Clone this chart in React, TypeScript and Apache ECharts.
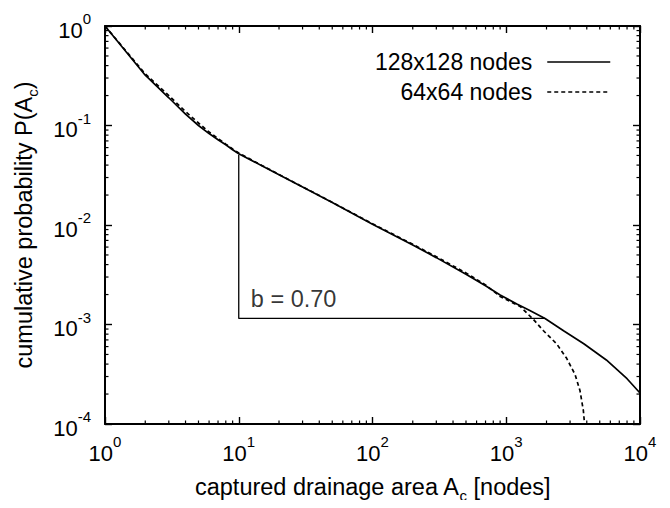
import React, { useEffect, useRef } from "react";
import * as echarts from "echarts";

// ---- data ----
const SERIES_NAMES = ["128x128 nodes", "64x64 nodes"];

const AREA_128 = [1, 2, 3, 4, 5, 6, 7, 8, 9, 10, 15, 20, 30, 50, 100, 200, 300, 500, 700, 900, 1200, 1500, 1950, 2700, 3800, 5600, 8000, 10000];
const PROB_128 = [1.0, 0.32, 0.19, 0.13, 0.1, 0.083, 0.072, 0.064, 0.057, 0.052, 0.0392, 0.032, 0.0241, 0.0168, 0.0102, 0.0063, 0.0047, 0.0032, 0.00245, 0.00198, 0.00161, 0.00138, 0.00115, 0.00086, 0.00064, 0.00044, 0.000285, 0.000205];

const AREA_64 = [1, 2, 3, 4, 5, 6, 7, 8, 9, 10, 15, 20, 30, 50, 100, 200, 300, 500, 700, 900, 1270, 1590, 1890, 2380, 2830, 3270, 3560, 3770, 3850];
const PROB_64 = [1.0, 0.33, 0.2, 0.138, 0.106, 0.086, 0.074, 0.065, 0.058, 0.053, 0.0395, 0.0322, 0.0242, 0.0169, 0.0103, 0.0064, 0.0048, 0.0033, 0.0025, 0.00191, 0.00152, 0.00113, 0.00087, 0.00064, 0.000457, 0.000314, 0.000216, 0.000137, 0.0001];

const TRIANGLE_AREA = [10, 10, 1950];
const TRIANGLE_PROB = [0.0508, 0.00115, 0.00115];
const SLOPE_LABEL = "b = 0.70";
const SLOPE_LABEL_AT = [11.3, 0.0018];

const X_RANGE = [1, 10000];
const Y_RANGE = [1e-4, 1];
const X_MINOR = [2, 3, 4, 5, 6, 7, 8, 9, 20, 30, 40, 50, 60, 70, 80, 90, 200, 300, 400, 500, 600, 700, 800, 900, 2000, 3000, 4000, 5000, 6000, 7000, 8000, 9000];
const Y_MINOR = [
  0.0002, 0.0003, 0.0004, 0.0005, 0.0006, 0.0007, 0.0008, 0.0009,
  0.002, 0.003, 0.004, 0.005, 0.006, 0.007, 0.008, 0.009,
  0.02, 0.03, 0.04, 0.05, 0.06, 0.07, 0.08, 0.09,
  0.2, 0.3, 0.4, 0.5, 0.6, 0.7, 0.8, 0.9,
];

const X_TITLE = ["captured drainage area A", "c", " [nodes]"];
const Y_TITLE = ["cumulative probability P(A", "c", ")"];

const FONT = "'Liberation Sans', Arial, Helvetica, sans-serif";
const MAJOR_LEN = 7;
const MINOR_LEN = 3.5;

const zip = (xs: number[], ys: number[]) => xs.map((x, i) => [x, ys[i]]);

const powLabel = (v: number) => {
  const e = Math.round(Math.log10(v));
  return `{b|10}{s|${e}}`;
};

const tickRich = {
  b: { fontSize: 22, fontFamily: FONT, color: "#000", lineHeight: 30, verticalAlign: "bottom" },
  s: { fontSize: 15, fontFamily: FONT, color: "#000", lineHeight: 16, verticalAlign: "top" },
};

const titleRich = {
  t: { fontSize: 23.5, fontFamily: FONT, color: "#000", lineHeight: 28, verticalAlign: "top" },
  u: { fontSize: 15, fontFamily: FONT, color: "#000", lineHeight: 18, verticalAlign: "bottom" },
};

const titleText = (parts: string[]) => `{t|${parts[0]}}{u|${parts[1]}}{t|${parts[2]}}`;

const axisCommon = (isX: boolean, show: boolean) => ({
  type: "log" as const,
  logBase: 10,
  min: isX ? X_RANGE[0] : Y_RANGE[0],
  max: isX ? X_RANGE[1] : Y_RANGE[1],
  axisLine: { show: true, lineStyle: { color: "#000", width: 2 } },
  axisTick: { show: true, inside: true, length: MAJOR_LEN, lineStyle: { color: "#000", width: 1.4 } },
  splitLine: { show: false },
  minorTick: { show: false },
  axisLabel: show
    ? { show: true, formatter: powLabel, rich: tickRich, margin: isX ? 10 : 14 }
    : { show: false },
});

export default function App() {
  const ref = useRef<HTMLDivElement>(null);

  useEffect(() => {
    if (!ref.current) return;
    const chart = echarts.init(ref.current, undefined, { renderer: "svg" });

    const tickStyle = { stroke: "#000", lineWidth: 1.2 };

    const option: any = {
      animation: false,
      backgroundColor: "#fff",
      textStyle: { fontFamily: FONT },
      grid: { left: 105, right: 30, top: 26, bottom: 74, containLabel: false },
      legend: {
        data: SERIES_NAMES,
        orient: "vertical",
        right: 54,
        top: 45,
        align: "right",
        itemWidth: 63,
        itemHeight: 24,
        itemGap: 6,
        selectedMode: false,
        itemStyle: { opacity: 0, color: "transparent", borderWidth: 0 },
        lineStyle: { width: 1.5 },
        textStyle: { fontSize: 23, fontFamily: FONT, color: "#000", lineHeight: 24, padding: [0, 10, 0, 0] },
      },
      xAxis: [
        {
          ...axisCommon(true, true),
          position: "bottom",
          name: titleText(X_TITLE),
          nameLocation: "middle",
          nameGap: 51,
          nameTextStyle: { rich: titleRich },
        },
        { ...axisCommon(true, false), position: "top" },
      ],
      yAxis: [
        {
          ...axisCommon(false, true),
          position: "left",
          name: titleText(Y_TITLE),
          nameLocation: "middle",
          nameGap: 65,
          nameTextStyle: { rich: titleRich },
        },
        { ...axisCommon(false, false), position: "right" },
      ],
      series: [
        {
          name: SERIES_NAMES[0],
          type: "line",
          data: zip(AREA_128, PROB_128),
          symbol: "none",
          smooth: false,
          lineStyle: { color: "#000", width: 1.7, type: "solid" },
          itemStyle: { color: "#000" },
          z: 5,
        },
        {
          name: SERIES_NAMES[1],
          type: "line",
          data: zip(AREA_64, PROB_64),
          symbol: "none",
          smooth: false,
          lineStyle: { color: "#000", width: 1.7, type: [4, 3] },
          itemStyle: { color: "#000" },
          z: 5,
        },
        {
          name: "slope",
          type: "line",
          data: zip(TRIANGLE_AREA, TRIANGLE_PROB),
          symbol: "none",
          silent: true,
          lineStyle: { color: "#000", width: 1.3 },
          z: 4,
        },
        {
          name: "slopeLabel",
          type: "scatter",
          data: [SLOPE_LABEL_AT],
          symbolSize: 0,
          silent: true,
          label: {
            show: true,
            position: "right",
            distance: 5,
            formatter: SLOPE_LABEL,
            fontSize: 23.5,
            fontFamily: FONT,
            color: "#000",
          },
        },
        {
          name: "xMinor",
          type: "custom",
          silent: true,
          data: X_MINOR.map((v) => [v, Y_RANGE[0]]),
          encode: { x: 0, y: 1 },
          renderItem: (_p: any, api: any) => {
            const v = api.value(0);
            const a = api.coord([v, Y_RANGE[0]]);
            const b = api.coord([v, Y_RANGE[1]]);
            return {
              type: "group",
              children: [
                { type: "line", shape: { x1: a[0], y1: a[1], x2: a[0], y2: a[1] - MINOR_LEN }, style: tickStyle },
                { type: "line", shape: { x1: b[0], y1: b[1], x2: b[0], y2: b[1] + MINOR_LEN }, style: tickStyle },
              ],
            };
          },
        },
        {
          name: "yMinor",
          type: "custom",
          silent: true,
          data: Y_MINOR.map((v) => [X_RANGE[0], v]),
          encode: { x: 0, y: 1 },
          renderItem: (_p: any, api: any) => {
            const v = api.value(1);
            const a = api.coord([X_RANGE[0], v]);
            const b = api.coord([X_RANGE[1], v]);
            return {
              type: "group",
              children: [
                { type: "line", shape: { x1: a[0], y1: a[1], x2: a[0] + MINOR_LEN, y2: a[1] }, style: tickStyle },
                { type: "line", shape: { x1: b[0], y1: b[1], x2: b[0] - MINOR_LEN, y2: b[1] }, style: tickStyle },
              ],
            };
          },
        },
      ],
    };

    chart.setOption(option);
    return () => chart.dispose();
  }, []);

  return <div ref={ref} style={{ width: 670, height: 508, margin: -8 }} />;
}
